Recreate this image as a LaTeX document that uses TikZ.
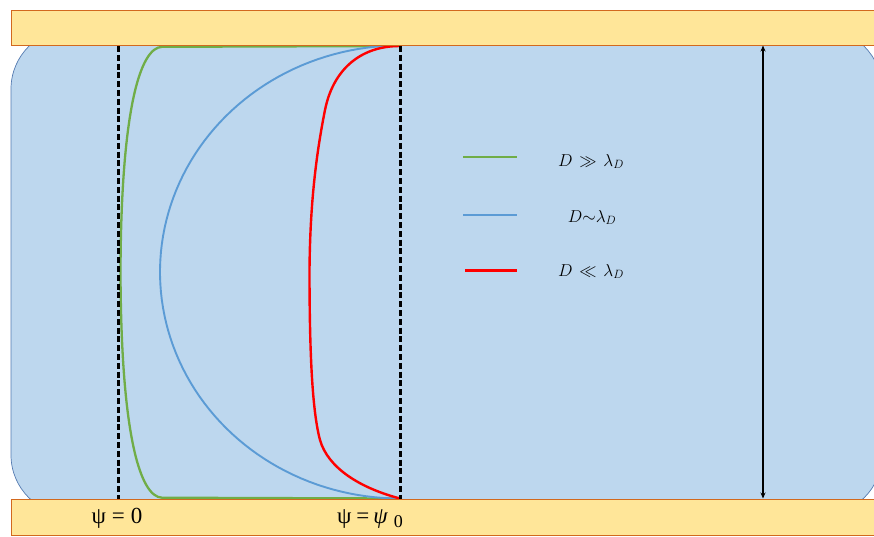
\documentclass[tikz,border=0pt]{standalone}
\usepackage{fontspec}
\setmainfont{Liberation Serif}
\usetikzlibrary{arrows.meta}
\definecolor{fluid}{RGB}{189,215,238}
\definecolor{fluidedge}{RGB}{84,122,176}
\definecolor{platefill}{RGB}{255,230,153}
\definecolor{plateedge}{RGB}{210,105,30}
\definecolor{cgreen}{RGB}{112,173,71}
\definecolor{cblue}{RGB}{91,155,213}
\definecolor{cred}{RGB}{255,0,0}
\tikzset{
  plate/.style={fill=platefill, draw=plateedge, line width=1pt},
  dashline/.style={black, line width=3pt, dash pattern=on 6pt off 2.8pt},
  curve/.style={line width=2.3pt},
  legtext/.style={font=\fontsize{18}{20}\selectfont, anchor=base},
  label/.style={font=\fontsize{23}{26}\selectfont, anchor=base},
}
\begin{document}
\begin{tikzpicture}[x=1pt,y=-1pt]
\useasboundingbox (0,0) rectangle (874,536);
\begin{scope}
\clip (0,0) rectangle (874,536);
% fluid region
\draw[fill=fluid, draw=fluidedge, line width=0.7pt, rounded corners=60pt] (11,29) rectangle (882,515);
% profiles
\draw[curve, cgreen] (400,46) -- (162,46.8) .. controls (140,47.5) and (121,110) .. (120.5,272) .. controls (121,434.5) and (140,497) .. (162,497.7) -- (400,498.5);
\draw[curve, cblue, line width=1.9pt] plot[domain=-90:90, samples=90] ({400-240*cos(\x)},{272+226.5*sin(\x)});
\draw[curve, cred, line width=2.4pt] (400,46) .. controls (360,46) and (333,70) .. (325,110) .. controls (315,160) and (310,210) .. (309.5,270) .. controls (309.5,350) and (312,410) .. (320,440) .. controls (328,468) and (360,488) .. (400,498.5);
% dashed lines
\coordinate (d1t) at (118,46);
\coordinate (d1b) at (118,499);
\coordinate (d2t) at (400,46);
\coordinate (d2b) at (400,499);
\draw[dashline] (d1t) -- (d1b);
\draw[dashline] (d2t) -- (d2b);
% plates
\draw[plate] (11,10) rectangle (890,45);
\draw[plate] (11,499) rectangle (890,535);
% gap arrow
\coordinate (at) at (763,45.5);
\coordinate (ab) at (763,498.5);
\draw[black, line width=1.5pt, {Stealth[length=6pt,width=5pt]}-{Stealth[length=6pt,width=5pt]}] (at) -- (ab);
\end{scope}
% legend
\coordinate (g1) at (463,157);
\coordinate (g2) at (517,157);
\coordinate (b1) at (463,215);
\coordinate (b2) at (517,215);
\coordinate (r1) at (465,270);
\coordinate (r2) at (517,270);
\draw[cgreen, line width=2.5pt] (g1) -- (g2);
\draw[cblue, line width=2.5pt] (b1) -- (b2);
\draw[cred, line width=3pt] (r1) -- (r2);
\node[legtext] (lg) at (591,166) {$D \mskip2mu\gg\mskip2mu \lambda_D$};
\node[legtext] (lb) at (592,222) {$D{\sim}\lambda_D$};
\node[legtext] (lr) at (591,276) {$D \mskip2mu\ll\mskip2mu \lambda_D$};
% labels
\node[label] (p0) at (117,523) {ψ\hspace{6pt}=\hspace{6pt}0};
\node[label] (p1) at (370,523) {ψ\hspace{5pt}=\hspace{4pt}\textit{ψ}\hspace{6pt}\raisebox{-4pt}{\fontsize{18}{19}\selectfont 0}};
\end{tikzpicture}
\end{document}
